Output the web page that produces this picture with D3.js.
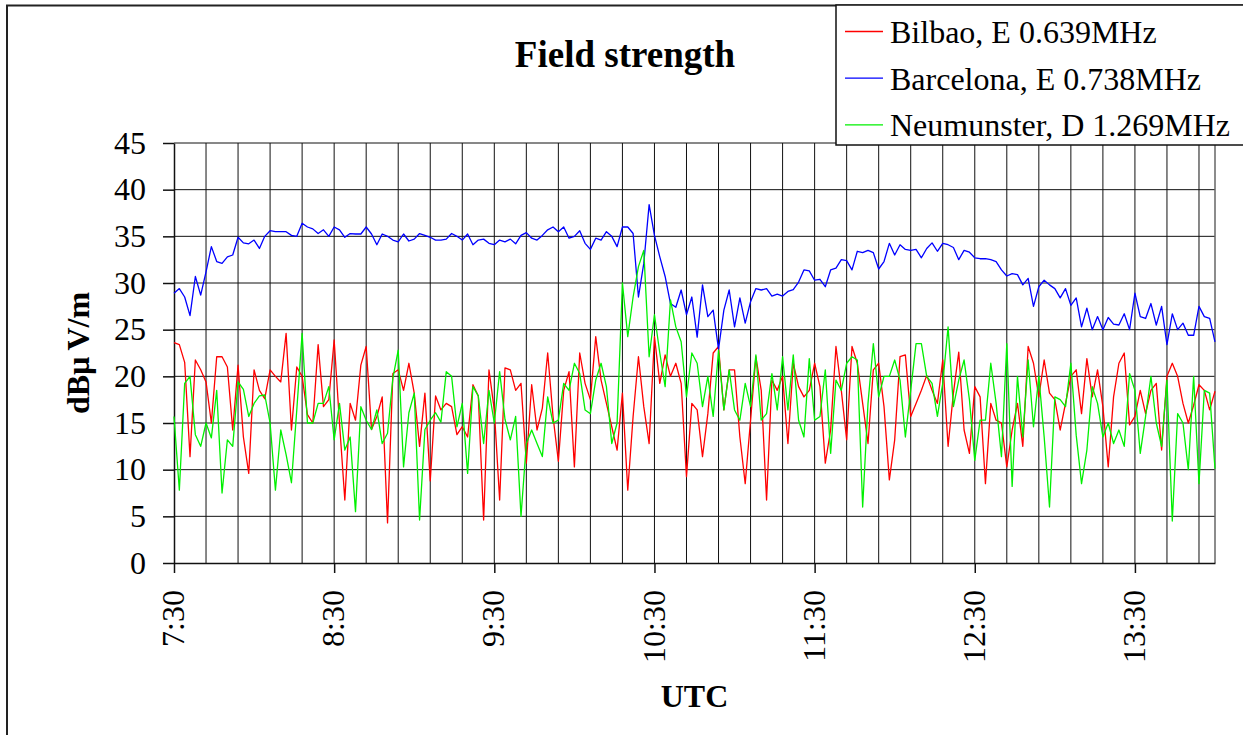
<!DOCTYPE html>
<html>
<head>
<meta charset="utf-8">
<script src="https://cdn.jsdelivr.net/npm/d3@7"></script>
<style>
  body { margin: 0; background: #fff; }
  svg { display: block; }
  svg text { font-family: "Liberation Serif", "Times New Roman", serif !important; }
</style>
</head>
<body>
<svg id="chart"></svg>
<script>
// minutes after 7:30 UTC, one sample every 2 minutes up to 14:00
var sampleMinutes = d3.range(0, 391, 2);

var seriesNames = ["Bilbao, E 0.639MHz", "Barcelona, E 0.738MHz", "Neumunster, D 1.269MHz"];
var seriesColors = ["#ff0000", "#0000ff", "#00f000"];

var bilbao = [
  23.6, 23.4, 21.5, 11.4, 21.75, 20.7, 19.4, 15.0, 22.1, 22.1, 21.0, 14.25, 21.2, 13.5, 9.6, 20.7, 18.5, 17.6, 20.7, 20.0, 19.4, 24.6, 14.25, 21.0, 20.0, 15.9, 15.0, 23.4, 16.75, 17.5, 23.9, 15.0, 6.75,
  17.1, 15.3, 21.2, 23.2, 14.3, 15.7, 17.8, 4.3, 20.3, 20.7, 18.5, 21.4, 18.2, 12.5, 18.2, 8.8, 17.9, 16.4, 17.1, 16.75, 13.75, 14.6, 13.5, 19.1, 17.9, 4.6, 20.7, 16.4, 6.75, 20.9, 20.7, 18.5, 19.25,
  10.7, 19.1, 14.25, 16.6, 22.5, 15.7, 10.9, 18.5, 20.5, 10.3, 22.5, 19.25, 17.5, 24.25, 19.6, 17.1, 14.6, 12.1, 18.2, 7.8, 15.7, 22.1, 16.75, 12.8, 24.25, 19.25, 22.3, 20.0, 21.4, 19.25, 9.25, 17.1, 16.4,
  11.4, 16.0, 22.5, 23.2, 16.4, 20.7, 20.7, 13.5, 8.5, 15.3, 22.1, 18.5, 6.75, 19.6, 18.5, 20.0, 12.8, 21.4, 18.9, 17.8, 18.5, 21.4, 18.9, 10.7, 14.25, 23.2, 18.5, 13.2, 23.2, 21.4, 17.1, 12.8,
  20.7, 21.4, 16.75, 8.9, 13.2, 22.1, 22.3, 15.7, 17.1, 18.5, 20.1, 18.5, 17.1, 21.75, 12.5, 18.2, 22.6, 14.25, 11.75, 18.9, 17.8, 8.5, 17.1, 15.3, 15.0, 10.3, 14.25, 17.1, 12.5, 23.2, 21.4, 17.8, 21.75,
  18.2, 17.5, 14.25, 17.1, 20.0, 20.7, 16.0, 21.9, 17.8, 20.7, 16.75, 10.3, 17.8, 21.4, 22.5, 14.8, 15.7, 18.5, 16.0, 18.5, 19.25, 12.1, 20.0, 21.4, 20.0, 17.1, 15.0, 16.9, 19.1, 18.5, 16.4, 18.4
];

var barcelona = [
  28.9, 29.4, 28.5, 26.5, 30.7, 28.7, 31.2, 33.9, 32.3, 32.1, 32.8, 33.0, 34.9, 34.3, 34.2, 34.6, 33.7, 35.0, 35.6, 35.5, 35.5, 35.5, 35.1, 35.0, 36.4, 36.0, 35.8, 35.3, 35.7, 35.0, 36.0, 35.7, 34.9,
  35.3, 35.25, 35.25, 36.0, 35.25, 34.1, 35.25, 35.0, 34.6, 34.4, 35.25, 34.5, 34.7, 35.3, 35.1, 34.9, 34.6, 34.6, 34.7, 35.3, 35.0, 34.6, 35.25, 34.1, 34.6, 34.7, 34.25, 34.1, 34.6, 34.4, 34.7, 34.2, 35.1,
  35.4, 34.8, 34.6, 35.1, 35.7, 36.0, 35.5, 36.0, 34.8, 35.0, 35.6, 34.25, 33.6, 34.8, 34.6, 35.5, 35.0, 33.9, 36.0, 36.0, 35.3, 28.5, 32.1, 38.4, 35.1, 32.8, 30.7, 27.8, 27.4, 29.25, 26.6, 28.5, 24.2,
  29.8, 26.4, 27.1, 22.9, 27.1, 29.25, 25.3, 28.4, 25.7, 28.0, 29.4, 29.25, 29.4, 28.6, 28.8, 28.6, 29.1, 29.3, 30.1, 31.4, 31.3, 30.3, 30.4, 29.6, 31.4, 31.6, 32.5, 32.4, 31.4, 33.4, 33.25, 33.5,
  33.25, 31.5, 32.3, 34.25, 33.0, 34.1, 33.6, 33.5, 33.6, 32.7, 33.7, 34.3, 33.4, 34.25, 34.1, 33.8, 32.5, 33.5, 33.3, 32.7, 32.6, 32.6, 32.5, 32.3, 31.4, 30.75, 31.0, 30.9, 29.8, 30.5, 27.5, 29.6, 30.3,
  29.8, 29.4, 28.4, 29.4, 27.6, 28.4, 25.3, 27.3, 25.0, 26.4, 25.0, 26.3, 25.6, 25.5, 26.7, 25.0, 28.9, 26.4, 26.2, 27.8, 25.5, 27.5, 23.4, 26.7, 25.0, 25.7, 24.4, 24.4, 27.5, 26.4, 26.2, 23.7
];

var neumunster = [
  15.7, 7.8, 19.25, 20.0, 13.75, 12.5, 15.0, 13.4, 18.5, 7.5, 13.2, 12.5, 19.4, 18.6, 15.7, 17.1, 17.9, 18.0, 15.0, 7.8, 14.25, 11.6, 8.6, 16.4, 24.6, 15.0, 15.0, 17.1, 17.1, 18.9, 13.2, 17.1, 12.1,
  13.5, 5.5, 16.75, 15.3, 14.3, 16.4, 12.8, 13.9, 19.8, 22.8, 10.3, 16.1, 18.2, 4.6, 14.3, 15.3, 16.1, 15.1, 20.5, 20.0, 14.6, 17.1, 9.6, 18.9, 17.9, 12.8, 18.5, 15.0, 20.5, 15.4, 13.2, 15.7, 5.0,
  12.8, 14.25, 12.8, 11.4, 17.8, 15.0, 15.3, 19.25, 18.5, 21.4, 20.3, 16.4, 16.0, 19.6, 21.4, 18.9, 12.8, 15.0, 30.0, 24.25, 28.5, 31.75, 33.5, 22.1, 26.6, 22.5, 18.9, 28.2, 25.3, 23.7, 17.8, 22.5, 21.4,
  16.75, 20.0, 15.7, 22.8, 16.4, 20.7, 16.4, 15.3, 19.25, 16.75, 22.3, 15.3, 16.0, 20.3, 16.4, 22.1, 16.4, 22.3, 15.3, 13.5, 21.9, 15.3, 15.7, 20.7, 11.75, 19.6, 18.5, 21.4, 22.1, 21.75, 6.0, 17.1,
  23.5, 17.8, 20.0, 20.0, 21.75, 19.6, 13.5, 18.5, 23.5, 23.5, 20.0, 19.25, 15.7, 19.25, 25.3, 16.75, 19.6, 21.75, 17.5, 11.0, 15.3, 15.3, 21.4, 17.1, 11.4, 23.5, 8.2, 20.0, 13.5, 21.75, 14.6, 20.0, 13.5,
  6.0, 17.8, 17.5, 16.75, 21.4, 13.7, 8.5, 12.1, 18.9, 17.1, 13.5, 15.0, 12.8, 14.25, 12.5, 20.3, 18.5, 11.75, 15.7, 20.0, 15.0, 12.5, 19.6, 4.5, 16.0, 15.0, 10.0, 20.0, 8.5, 18.5, 18.2, 10.1
];

var xTickMinutes = [0, 60, 120, 180, 240, 300, 360];
var xTickLabels = ["7:30", "8:30", "9:30", "10:30", "11:30", "12:30", "13:30"];
var yTicks = [0, 5, 10, 15, 20, 25, 30, 35, 40, 45];

var width = 1243, height = 735;
var margins = {left: 174, right: 28, top: 143, bot: 172};

var svg = d3.select("#chart")
            .attr("width", width)
            .attr("height", height);

var xScale = d3.scaleLinear()
               .domain([0, 390])
               .range([margins.left, width - margins.right]);
var yScale = d3.scaleLinear()
               .domain([0, 45])
               .range([height - margins.bot, margins.top]);

// outer frame (left and top edges visible)
svg.append("path")
   .attr("d", "M7,735 V5.5 H1243")
   .attr("fill", "none")
   .attr("stroke", "#222")
   .attr("stroke-width", 2);

// grid
svg.append("g")
   .selectAll("line")
   .data(d3.range(12, 390, 12))
   .enter().append("line")
   .attr("x1", function(d){ return xScale(d); })
   .attr("x2", function(d){ return xScale(d); })
   .attr("y1", yScale(45))
   .attr("y2", yScale(0))
   .attr("stroke", "#111")
   .attr("stroke-width", 1);

svg.append("g")
   .selectAll("line")
   .data(yTicks.slice(1))
   .enter().append("line")
   .attr("x1", xScale(0))
   .attr("x2", xScale(390))
   .attr("y1", function(d){ return yScale(d); })
   .attr("y2", function(d){ return yScale(d); })
   .attr("stroke", "#111")
   .attr("stroke-width", 1);

svg.append("line")
   .attr("x1", xScale(390)).attr("x2", xScale(390))
   .attr("y1", yScale(45)).attr("y2", yScale(0))
   .attr("stroke", "#666").attr("stroke-width", 1.5);

// axes
var yAxis = d3.axisLeft(yScale)
              .tickValues(yTicks)
              .tickSize(11)
              .tickSizeOuter(0)
              .tickPadding(17);
var gy = svg.append("g")
   .attr("transform", "translate(" + margins.left + ",0)")
   .call(yAxis)
   .attr("font-size", 32);
gy.selectAll("text").attr("fill", "#000");
gy.selectAll("line, path").attr("stroke", "#111").attr("stroke-width", 1.5);

var xAxis = d3.axisBottom(xScale)
              .tickValues(xTickMinutes)
              .tickFormat(function(d, i){ return xTickLabels[i]; })
              .tickSize(10)
              .tickSizeOuter(0);
var gx = svg.append("g")
   .attr("transform", "translate(0," + (height - margins.bot) + ")")
   .call(xAxis)
   .attr("font-size", 32);
gx.selectAll("line, path").attr("stroke", "#111").attr("stroke-width", 1.5);
gx.selectAll("text")
  .attr("fill", "#000")
  .attr("y", 0)
  .attr("x", -27)
  .attr("dy", "0.3em")
  .attr("transform", "rotate(-90)")
  .style("text-anchor", "end");

// lines
var line = d3.line()
             .x(function(d, i){ return xScale(sampleMinutes[i]); })
             .y(function(d){ return yScale(d); });

[bilbao, barcelona, neumunster].forEach(function(s, k){
  svg.append("path")
     .datum(s)
     .attr("d", line)
     .attr("fill", "none")
     .attr("stroke", seriesColors[k])
     .attr("stroke-width", 1.3)
     .attr("stroke-linejoin", "round");
});

// titles
svg.append("text")
   .attr("x", 625).attr("y", 67)
   .attr("text-anchor", "middle")
   .style("font-size", "37px").style("font-weight", "bold")
   .text("Field strength");

svg.append("text")
   .attr("x", (xScale(0) + xScale(390)) / 2).attr("y", 707)
   .attr("text-anchor", "middle")
   .style("font-size", "32px").style("font-weight", "bold")
   .text("UTC");

var yl = svg.append("text")
   .attr("transform", "translate(89,353) rotate(-90)")
   .attr("text-anchor", "middle")
   .style("font-size", "32px").style("font-weight", "bold");
yl.append("tspan").text("dBµ");
yl.append("tspan").attr("dx", 6).text("V/m");

// legend
var legend = svg.append("g");
legend.append("rect")
      .attr("x", 836).attr("y", 5)
      .attr("width", 420).attr("height", 140)
      .attr("fill", "#fff")
      .attr("stroke", "#111")
      .attr("stroke-width", 1.5);

seriesNames.forEach(function(name, i){
  var yy = 31.5 + i * 46.7;
  legend.append("line")
        .attr("x1", 845).attr("x2", 883)
        .attr("y1", yy).attr("y2", yy)
        .attr("stroke", seriesColors[i])
        .attr("stroke-width", 1.3);
  legend.append("text")
        .attr("x", 890).attr("y", yy + 11.5)
        .style("font-size", "32px")
        .text(name);
});
</script>
</body>
</html>
